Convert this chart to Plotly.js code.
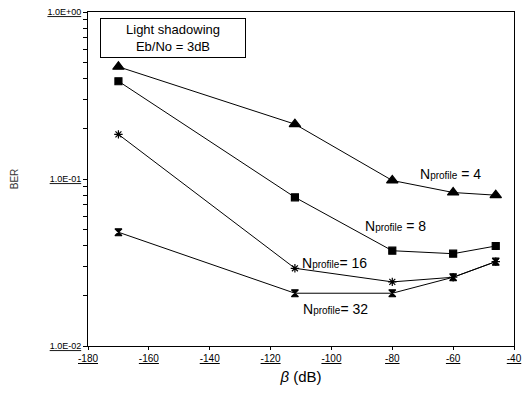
<!DOCTYPE html>
<html>
<head>
<meta charset="utf-8">
<script src="https://cdn.plot.ly/plotly-3.0.1.min.js"></script>
<style>
  html, body { margin: 0; padding: 0; background: #fff; }
  #chart { width: 528px; height: 398px; }
</style>
</head>
<body>
<div id="chart"></div>
<script>
// Shadowing angle beta (dB) at which BER was measured
const beta = [-170, -112, -80, -60, -46];

// Bit error rate for each number of profiles
const berN4  = [0.47, 0.213, 0.098, 0.083, 0.080];
const berN8  = [0.385, 0.0777, 0.0372, 0.0357, 0.0397];
const berN16 = [0.185, 0.0292, 0.0242, 0.0258, 0.032];
const berN32 = [0.048, 0.0207, 0.0207, 0.0258, 0.032];

// Axis ticks
const xTickVals = [-180, -160, -140, -120, -100, -80, -60, -40];
const xTickText = ['-180', '-160', '-140', '-120', '-100', '-80', '-60', '-40'];
const yMajorVals = [0.01, 0.1, 1];
const yMajorText = ['1.0E-02', '1.0E-01', '1.0E+00'];

// Minor ticks at 2..9 in each decade, unlabeled
const yTickVals = [];
const yTickText = [];
[0.01, 0.1].forEach(function (d) {
  for (let k = 1; k <= 9; k++) {
    yTickVals.push(d * k);
    yTickText.push(k === 1 ? yMajorText[yMajorVals.indexOf(d)] : '');
  }
});
yTickVals.push(1);
yTickText.push(yMajorText[2]);

const font = 'Liberation Sans, Arial, Helvetica, sans-serif';

function series(y, symbol, size, name) {
  return {
    x: beta, y: y, name: name, type: 'scatter', mode: 'lines+markers',
    line: { color: '#000', width: 1 },
    marker: { symbol: symbol, size: size, color: '#000', line: { color: '#000', width: 1.2 } },
    showlegend: false, hoverinfo: 'skip'
  };
}

const data = [
  series(berN4, 'triangle-up', 10, 'N=4'),
  series(berN8, 'square', 7, 'N=8'),
  series(berN16, 'asterisk-open', 7, 'N=16'),
  series(berN32, 'hourglass', 7, 'N=32')
];

function nLabel(n, sep) {
  return 'N<span style="font-size:10px">profile</span>' + sep + '= ' + n;
}

const layout = {
  width: 528, height: 398,
  margin: { l: 88, r: 14, t: 12, b: 52 },
  paper_bgcolor: '#fff', plot_bgcolor: '#fff',
  font: { family: font, color: '#000' },
  xaxis: {
    range: [-180, -40],
    tickvals: xTickVals,
    ticktext: xTickText.map(function (t) { return '<span style="text-decoration:underline">' + t + '</span>'; }),
    tickfont: { size: 10, family: font },
    ticks: 'outside', ticklen: 3, tickcolor: '#000',
    showgrid: false, zeroline: false,
    showline: true, linecolor: '#000', linewidth: 1, mirror: true,
    title: { text: '<i>β</i> (dB)', font: { size: 15, family: font }, standoff: 8 }
  },
  yaxis: {
    type: 'log',
    range: [-2, 0],
    tickvals: yTickVals,
    ticktext: yTickText.map(function (t) { return t ? '<span style="text-decoration:underline">' + t + '</span>' : ''; }),
    tickfont: { size: 9, family: font },
    ticks: 'outside', ticklen: 4, tickcolor: '#000',
    showgrid: false, zeroline: false,
    showline: true, linecolor: '#000', linewidth: 1, mirror: true,
    title: { text: 'BER', font: { size: 10, family: font, color: '#333' }, standoff: 26 }
  },
  annotations: [
    {
      xref: 'paper', yref: 'paper', x: 0.028, y: 0.982,
      xanchor: 'left', yanchor: 'top',
      text: 'Light shadowing<br>Eb/No = 3dB',
      showarrow: false, align: 'center',
      font: { size: 13, family: font },
      bordercolor: '#000', borderwidth: 1, borderpad: 3,
      bgcolor: '#fff', width: 138
    },
    {
      x: -71.6, y: -0.97, xanchor: 'left', yanchor: 'middle',
      text: nLabel(4, ' '), showarrow: false, font: { size: 14, family: font }
    },
    {
      x: -89.5, y: -1.281, xanchor: 'left', yanchor: 'middle',
      text: nLabel(8, ' '), showarrow: false, font: { size: 14, family: font }
    },
    {
      x: -110.3, y: -1.503, xanchor: 'left', yanchor: 'middle',
      text: nLabel(16, ''), showarrow: false, font: { size: 14, family: font }
    },
    {
      x: -110, y: -1.778, xanchor: 'left', yanchor: 'middle',
      text: nLabel(32, ''), showarrow: false, font: { size: 14, family: font }
    }
  ]
};

Plotly.newPlot('chart', data, layout, { displayModeBar: false, staticPlot: true });
</script>
</body>
</html>
